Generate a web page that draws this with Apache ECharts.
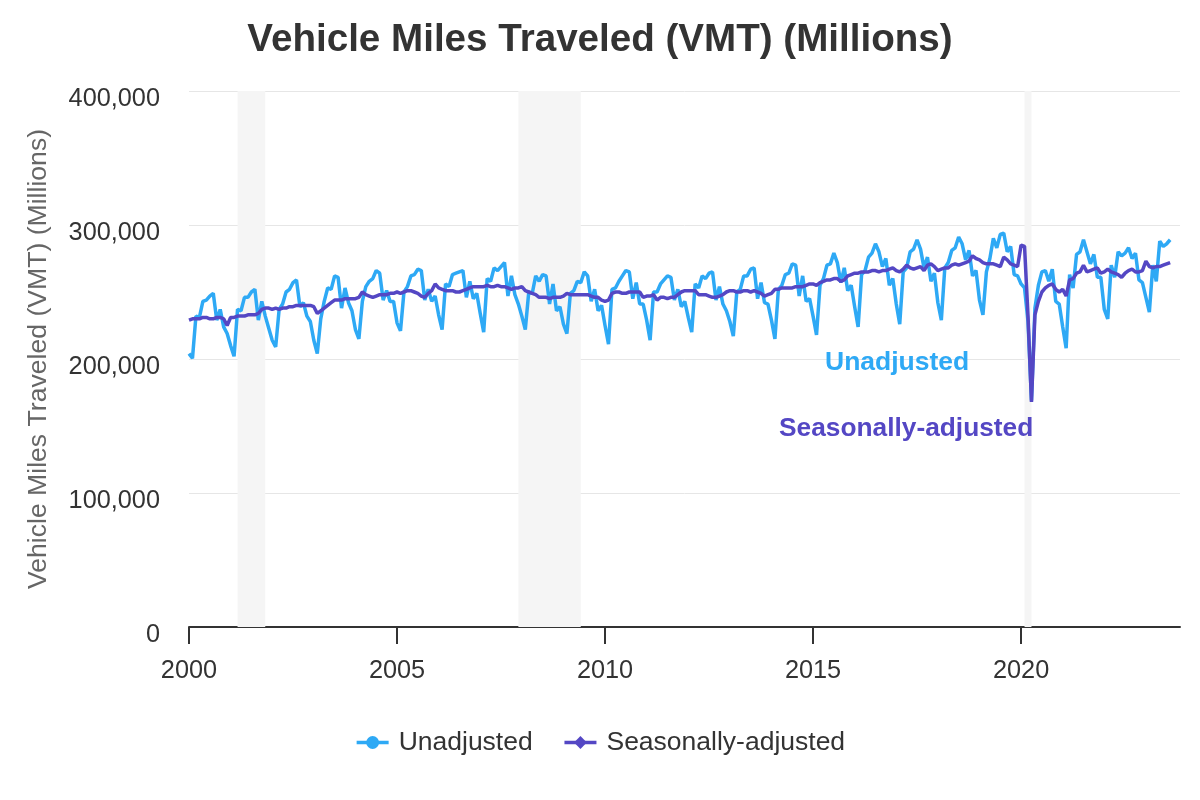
<!DOCTYPE html>
<html lang="en">
  <head>
    <meta charset="utf-8" />
    <title>Vehicle Miles Traveled (VMT) (Millions)</title>
    <script src="https://cdn.jsdelivr.net/npm/echarts@6/dist/echarts.min.js"></script>
    <style>
      html, body { margin: 0; padding: 0; background: #fff; }
      #chart { width: 1200px; height: 800px; }
    </style>
  </head>
  <body>
    <div id="chart"></div>
    <script type="text/javascript">
      // monthly values, millions of miles, starting Jan 2000
      var startYear = 2000;

      var unadjusted = [
        204000, 200500, 232000, 231000, 243000, 244000, 247000, 249000, 229000, 237000, 224000, 219000, // 2000
        210000, 202000, 237000, 236000, 246000, 246000, 250000, 252000, 229000, 243000, 232000, 223000, // 2001
        214000, 209000, 237000, 241000, 250000, 252000, 257000, 259000, 239000, 242000, 232000, 228000, // 2002
        214000, 204000, 230000, 243000, 253000, 252000, 262000, 261000, 238000, 253000, 242000, 236000, // 2003
        222000, 215000, 243000, 254000, 258000, 260000, 266000, 264000, 244000, 251000, 243000, 243000, // 2004
        227000, 221000, 250000, 254000, 262000, 263000, 267000, 266000, 244000, 252000, 243000, 247000, // 2005
        233000, 222000, 256000, 254000, 263000, 264000, 265000, 266000, 246000, 258000, 245000, 249000, // 2006
        234000, 220000, 260000, 258000, 268000, 266000, 269000, 272000, 247000, 262000, 248000, 241000, // 2007
        232000, 222000, 250000, 249000, 262000, 258000, 263000, 262000, 241000, 256000, 236000, 239000, // 2008
        226000, 219000, 249000, 251000, 258000, 257000, 265000, 262000, 243000, 252000, 236000, 240000, // 2009
        225000, 211000, 252000, 253000, 258000, 262000, 266000, 265000, 245000, 257000, 241000, 241000, // 2010
        229000, 214000, 250000, 250000, 256000, 259000, 262000, 261000, 244000, 252000, 239000, 243000, // 2011
        231000, 220000, 256000, 253000, 262000, 260000, 264000, 265000, 244000, 254000, 241000, 236000, // 2012
        228000, 217000, 250000, 252000, 262000, 262000, 267000, 268000, 245000, 257000, 242000, 241000, // 2013
        229000, 215000, 252000, 255000, 263000, 264000, 271000, 270000, 247000, 262000, 243000, 245000, // 2014
        232000, 218000, 255000, 260000, 270000, 271000, 279000, 272000, 257000, 268000, 251000, 255000, // 2015
        239000, 224000, 263000, 266000, 276000, 279000, 286000, 280000, 269000, 275000, 255000, 260000, // 2016
        241000, 226000, 265000, 268000, 280000, 282000, 289000, 282000, 268000, 276000, 258000, 264000, // 2017
        242000, 229000, 268000, 272000, 281000, 283000, 291000, 286000, 274000, 281000, 262000, 266000, // 2018
        244000, 233000, 265000, 275000, 290000, 283000, 293000, 294000, 280000, 284000, 263000, 262000, // 2019
        256000, 253000, 228000, 169000, 238000, 255000, 265000, 266000, 258000, 267000, 243000, 241000, // 2020
        224000, 208000, 263000, 253000, 278000, 280000, 289000, 280000, 271000, 278000, 261000, 261000, // 2021
        237000, 230000, 270000, 261000, 280000, 277000, 279000, 283000, 275000, 279000, 259000, 257000, // 2022
        246000, 235000, 270000, 258000, 288000, 284000, 286000, 289000                                  // 2023
      ];

      var seasonallyAdjusted = [
        229000, 230000, 230000, 230000, 231000, 231000, 230000, 230000, 231000, 231000, 230000, 225000, // 2000
        231000, 231000, 232000, 232000, 232000, 233000, 233000, 233000, 234000, 237000, 238000, 238000, // 2001
        237000, 238000, 237000, 238000, 238000, 239000, 239000, 240000, 240000, 240000, 240000, 240000, // 2002
        239000, 234000, 236000, 238000, 240000, 242000, 244000, 244000, 244000, 245000, 245000, 245000, // 2003
        245000, 246000, 250000, 248000, 247000, 246000, 247000, 248000, 248000, 248000, 249000, 249000, // 2004
        250000, 249000, 250000, 251000, 251000, 250000, 249000, 247000, 246000, 249000, 251000, 256000, // 2005
        253000, 252000, 251000, 251000, 251000, 250000, 250000, 251000, 252000, 253000, 254000, 254000, // 2006
        254000, 254000, 255000, 254000, 254000, 255000, 254000, 254000, 253000, 252000, 253000, 253000, // 2007
        254000, 251000, 250000, 249000, 248000, 246000, 246000, 246000, 245000, 246000, 246000, 246000, // 2008
        247000, 249000, 248000, 248000, 248000, 248000, 248000, 248000, 247000, 246000, 246000, 244000, // 2009
        243000, 244000, 249000, 250000, 250000, 249000, 249000, 250000, 250000, 250000, 250000, 246000, // 2010
        247000, 247000, 248000, 244000, 246000, 246000, 245000, 246000, 246000, 248000, 250000, 251000, // 2011
        251000, 251000, 251000, 248000, 248000, 248000, 247000, 246000, 246000, 247000, 248000, 250000, // 2012
        251000, 251000, 250000, 250000, 251000, 251000, 250000, 251000, 250000, 249000, 247000, 248000, // 2013
        249000, 252000, 252000, 253000, 253000, 253000, 253000, 254000, 254000, 254000, 255000, 256000, // 2014
        256000, 255000, 257000, 258000, 259000, 259000, 260000, 260000, 258000, 259000, 262000, 263000, // 2015
        264000, 264000, 265000, 265000, 265000, 266000, 266000, 265000, 266000, 266000, 267000, 268000, // 2016
        266000, 265000, 267000, 270000, 268000, 267000, 268000, 269000, 266000, 270000, 271000, 269000, // 2017
        266000, 267000, 268000, 268000, 270000, 271000, 270000, 271000, 272000, 273000, 277000, 275000, // 2018
        274000, 272000, 271000, 271000, 271000, 270000, 269000, 276000, 274000, 271000, 270000, 269000, // 2019
        285000, 284000, 232000, 168000, 233000, 243000, 250000, 253000, 255000, 256000, 252000, 250000, // 2020
        252000, 247000, 259000, 260000, 264000, 265000, 270000, 265000, 266000, 267000, 268000, 264000, // 2021
        265000, 267000, 265000, 264000, 263000, 261000, 264000, 266000, 267000, 265000, 265000, 266000, // 2022
        273000, 269000, 268000, 269000, 269000, 270000, 271000, 272000                                  // 2023
      ];

      // recessions as [start, end] in fractional years
      var recessions = [
        [2001.167, 2001.833],
        [2007.917, 2009.417],
        [2020.083, 2020.25]
      ];

      var yearTicks = [2000, 2005, 2010, 2015, 2020];

      var colorUnadj = "#2ea9f5";
      var colorSA = "#5447c4";
      var font = "Liberation Sans, Arial, sans-serif";

      function toPoints(values) {
        var pts = [];
        for (let i = 0; i < values.length; ++i) {
          pts.push([startYear + i / 12, values[i]]);
        }
        return pts;
      }

      var bands = recessions.map(function (r) {
        return [{ xAxis: r[0] }, { xAxis: r[1] }];
      });

      var myChart = echarts.init(document.getElementById("chart"));
      myChart.setOption({
        animation: false,
        textStyle: { fontFamily: font },
        title: {
          text: "Vehicle Miles Traveled (VMT) (Millions)",
          left: "center",
          top: 16,
          textStyle: { fontSize: 38.6, fontWeight: "bold", color: "#333333" },
        },
        grid: { left: 189, right: 20, top: 91, bottom: 173 },
        legend: {
          bottom: 39,
          left: "center",
          itemWidth: 32,
          itemHeight: 16,
          itemGap: 30,
          lineStyle: { width: 3.5 },
          textStyle: { fontSize: 26.5, color: "#333333", padding: [0, 0, 0, 5] },
          data: ["Unadjusted", "Seasonally-adjusted"],
        },
        xAxis: {
          type: "value",
          min: 2000,
          max: 2023.82,
          interval: 5,
          splitLine: { show: false },
          axisLine: { lineStyle: { color: "#333333", width: 2 } },
          axisTick: {
            customValues: yearTicks,
            length: 17,
            lineStyle: { color: "#333333", width: 2 },
          },
          axisLabel: {
            customValues: yearTicks,
            fontSize: 25.3,
            color: "#333333",
            margin: 32,
            formatter: function (v) {
              return String(v);
            },
          },
        },
        yAxis: {
          type: "value",
          min: 0,
          max: 400000,
          interval: 100000,
          name: "Vehicle Miles Traveled (VMT) (Millions)",
          nameLocation: "middle",
          nameGap: 137,
          nameTextStyle: { fontSize: 26.6, color: "#666666" },
          axisLine: { show: false },
          axisTick: { show: false },
          axisLabel: {
            fontSize: 25.3,
            color: "#333333",
            margin: 29,
            verticalAlign: "top",
            lineHeight: 16,
          },
          splitLine: { lineStyle: { color: "#e6e6e6", width: 1 } },
        },
        series: [
          {
            name: "Unadjusted",
            type: "line",
            data: toPoints(unadjusted),
            symbol: "circle",
            symbolSize: 12,
            showSymbol: false,
            color: colorUnadj,
            lineStyle: { width: 3.5, color: colorUnadj },
            markArea: {
              silent: true,
              itemStyle: { color: "#f5f5f5" },
              data: bands,
            },
          },
          {
            name: "Seasonally-adjusted",
            type: "line",
            data: toPoints(seasonallyAdjusted),
            symbol: "diamond",
            symbolSize: 12,
            showSymbol: false,
            color: colorSA,
            lineStyle: { width: 3.5, color: colorSA },
          },
        ],
        graphic: [
          {
            type: "text",
            left: 825,
            top: 349,
            z: 100,
            style: {
              text: "Unadjusted",
              fill: colorUnadj,
              font: "bold 26.5px " + font,
            },
          },
          {
            type: "text",
            left: 779,
            top: 416,
            z: 100,
            style: {
              text: "Seasonally-adjusted",
              fill: colorSA,
              font: "bold 26.3px " + font,
            },
          },
        ],
      });
    </script>
  </body>
</html>
